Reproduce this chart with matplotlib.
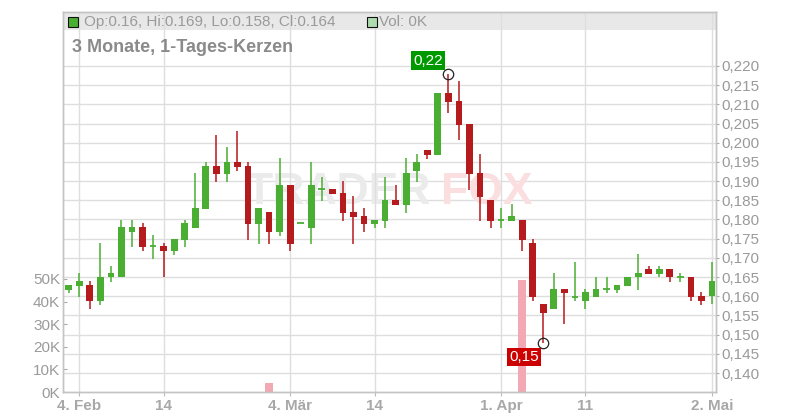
import matplotlib
matplotlib.use("Agg")
import matplotlib.pyplot as plt
from matplotlib.patches import Rectangle
import matplotlib.transforms as mtransforms

plt.rcParams['font.family'] = ['Liberation Sans', 'DejaVu Sans']

# ---- data (trading-day index: -1 = 1 Feb ... 60 = 2 May) ----
day_index = list(range(-1, 61))
opens = [0.1616, 0.1627, 0.1629, 0.1588, 0.1649, 0.1649, 0.1767, 0.1780, 0.1730, 0.1731,
         0.1719, 0.1747, 0.1779, 0.1827, 0.1939, 0.1919, 0.1950, 0.1939, 0.1789, 0.1820,
         0.1768, 0.1891, 0.1790, 0.1779, 0.1879, 0.1879, 0.1869, 0.1820, 0.1809, 0.1789,
         0.1797, 0.1851, 0.1839, 0.1927, 0.1981, 0.1969, 0.2130, 0.2109, 0.2050, 0.1921,
         0.1851, 0.1798, 0.1797, 0.1799, 0.1739, 0.1580, 0.1568, 0.1619, 0.1599, 0.1588,
         0.1599, 0.1618, 0.1617, 0.1627, 0.1649, 0.1671, 0.1659, 0.1671, 0.1650, 0.1650,
         0.1601, 0.1600]
highs = [0.1630, 0.1661, 0.1640, 0.1739, 0.1679, 0.1799, 0.1799, 0.1791, 0.1760, 0.1739,
         0.1749, 0.1799, 0.1921, 0.1950, 0.2020, 0.1989, 0.2031, 0.1950, 0.1830, 0.1820,
         0.1960, 0.1891, 0.1790, 0.1950, 0.1911, 0.1879, 0.1900, 0.1861, 0.1830, 0.1799,
         0.1911, 0.1890, 0.1960, 0.1971, 0.1981, 0.2130, 0.2179, 0.2161, 0.2050, 0.1971,
         0.1851, 0.1830, 0.1840, 0.1799, 0.1749, 0.1580, 0.1661, 0.1619, 0.1689, 0.1619,
         0.1650, 0.1650, 0.1629, 0.1650, 0.1710, 0.1679, 0.1679, 0.1671, 0.1661, 0.1650,
         0.1611, 0.1690]
lows = [0.1609, 0.1599, 0.1568, 0.1578, 0.1638, 0.1649, 0.1728, 0.1718, 0.1697, 0.1649,
        0.1708, 0.1729, 0.1779, 0.1827, 0.1898, 0.1898, 0.1926, 0.1747, 0.1737, 0.1737,
        0.1758, 0.1719, 0.1790, 0.1737, 0.1848, 0.1867, 0.1797, 0.1737, 0.1768, 0.1779,
        0.1779, 0.1839, 0.1818, 0.1898, 0.1958, 0.1969, 0.2078, 0.2008, 0.1878, 0.1797,
        0.1779, 0.1779, 0.1797, 0.1719, 0.1588, 0.1479, 0.1568, 0.1528, 0.1588, 0.1568,
        0.1599, 0.1608, 0.1608, 0.1627, 0.1617, 0.1659, 0.1649, 0.1638, 0.1638, 0.1588,
        0.1578, 0.1580]
closes = [0.1630, 0.1640, 0.1588, 0.1649, 0.1661, 0.1780, 0.1780, 0.1728, 0.1730, 0.1719,
          0.1749, 0.1791, 0.1830, 0.1939, 0.1919, 0.1950, 0.1937, 0.1789, 0.1830, 0.1768,
          0.1890, 0.1737, 0.1790, 0.1891, 0.1879, 0.1867, 0.1818, 0.1807, 0.1789, 0.1799,
          0.1851, 0.1839, 0.1921, 0.1950, 0.1969, 0.2130, 0.2107, 0.2047, 0.1919, 0.1859,
          0.1797, 0.1798, 0.1809, 0.1747, 0.1599, 0.1557, 0.1619, 0.1609, 0.1599, 0.1610,
          0.1619, 0.1618, 0.1629, 0.1650, 0.1661, 0.1659, 0.1671, 0.1649, 0.1650, 0.1599,
          0.1588, 0.1640]
volumes = [0, 0, 0, 0, 0, 0, 0, 0, 0, 0,
           0, 0, 0, 0, 0, 0, 0, 0, 0, 4000,
           0, 0, 0, 0, 0, 0, 0, 0, 0, 0,
           0, 0, 0, 0, 0, 0, 0, 0, 0, 0,
           0, 0, 0, 49500, 0, 0, 0, 0, 0, 0,
           0, 0, 0, 0, 0, 0, 0, 0, 0, 0,
           0, 0]
xtick_pos = [0, 8, 20, 28, 40, 48, 60]
xtick_labels = ["4. Feb", "14", "4. Mär", "14", "1. Apr", "11", "2. Mai"]
price_ticks = [0.140, 0.145, 0.150, 0.155, 0.160, 0.165, 0.170, 0.175, 0.180,
               0.185, 0.190, 0.195, 0.200, 0.205, 0.210, 0.215, 0.220]
vol_ticks = [0, 10000, 20000, 30000, 40000, 50000]
vol_tick_labels = ["0K", "10K", "20K", "30K", "40K", "50K"]
high_label, high_day, high_val = "0,22", 35, 0.2179
low_label, low_day, low_val = "0,15", 44, 0.1479

GREEN = '#4aae33'
RED = '#b51a1d'
VOLRED = '#f2a9b3'
VOLGREEN = '#aedcae'
GRID = '#dedede'
SPINE = '#c4c4c4'
TXT = '#9a9a9a'

W, H = 800, 420
fig = plt.figure(figsize=(8, 4.2), dpi=100)
L, R, T, B = 63, 716, 12, 392
ax_v = fig.add_axes([L / W, 1 - B / H, (R - L) / W, (B - T) / H])
ax_p = ax_v.twinx()

ax_v.set_xlim(-1.546, 60.38)
ax_v.set_ylim(0, 168000)
ax_p.set_ylim(0.13505, 0.23407)

# legend band at top
band_frac = 1 - 18 / (B - T)
ax_v.add_patch(Rectangle((0, band_frac), 1, 1 - band_frac, transform=ax_v.transAxes,
                         facecolor='#e8e8e8', edgecolor='none', zorder=0.1))

# gridlines
ax_v.set_axisbelow(True)
ax_v.set_xticks(xtick_pos)
ax_v.set_xticklabels(xtick_labels)
ax_v.grid(axis='x', color=GRID, lw=1.0)
blend = mtransforms.blended_transform_factory(ax_v.transAxes, ax_p.transData)
for p in price_ticks:
    ax_v.plot([0, 1], [p, p], transform=blend, color=GRID, lw=1.0, zorder=0.3)

# watermark
ax_v.text((245 - L) / (R - L), (B - 192) / (B - T), "TRADER", transform=ax_v.transAxes,
          fontsize=32, fontweight='bold', color='#ebebeb', ha='left', va='center', zorder=0.4)
ax_v.text((441 - L) / (R - L), (B - 192) / (B - T), "FOX", transform=ax_v.transAxes,
          fontsize=32, fontweight='bold', color='#fbdfe0', ha='left', va='center', zorder=0.4)

# volume bars
vcolors = [VOLGREEN if c >= o else VOLRED for o, c in zip(opens, closes)]
ax_v.bar(day_index, volumes, width=0.7, color=vcolors, zorder=1)

# candles
bw = 0.64
for x, o, h, l, c in zip(day_index, opens, highs, lows, closes):
    col = GREEN if c >= o else RED
    if h > l:
        ax_p.vlines(x, l, h, colors=col, lw=1.1, zorder=2)
    if abs(c - o) < 1e-9:
        ax_p.hlines(o, x - bw / 2, x + bw / 2, colors=col, lw=1.3, zorder=3)
    else:
        ax_p.bar(x, abs(c - o), bottom=min(o, c), width=bw, color=col, zorder=3, lw=0)

# high / low markers
for d, v, lab, bg, off in [(high_day, high_val, high_label, '#009a00', (-20.5, 13.5)),
                           (low_day, low_val, low_label, '#cc0000', (-19.5, -14))]:
    ax_p.plot([d], [v], marker='o', ms=7.5, mfc='none', mec='#222222', mew=0.9, zorder=5)
    ax_p.annotate(lab, xy=(d, v), xytext=off, textcoords='offset pixels',
                  ha='center', va='center', color='white', fontsize=11, zorder=6,
                  bbox=dict(boxstyle='square,pad=0.14', fc=bg, ec='none'))

# axes styling
for a in (ax_v, ax_p):
    for s in a.spines.values():
        s.set_color(SPINE)
        s.set_linewidth(1.0)

ax_v.set_yticks(vol_ticks)
ax_v.set_yticklabels(vol_tick_labels)
ax_v.tick_params(axis='y', direction='in', length=3, width=0.8, color='#aaaaaa',
                 pad=2, labelsize=11, labelcolor=TXT)
ax_v.tick_params(axis='x', length=3, width=0.8, color='#bbbbbb', pad=2,
                 labelsize=11, labelcolor='#a8a8a8')
for t in ax_v.get_xticklabels():
    t.set_fontweight('bold')

ax_p.set_yticks(price_ticks)
ax_p.set_yticklabels([("%.3f" % p).replace('.', ',') for p in price_ticks])
ax_p.tick_params(axis='y', length=2, width=0.8, color='#aaaaaa', pad=2,
                 labelsize=11, labelcolor=TXT)

# header texts
fig.add_artist(Rectangle((68 / W, 1 - 27 / H), 10 / W, 10 / H, transform=fig.transFigure,
                         facecolor=GREEN, edgecolor='#111111', lw=0.8))
fig.text(84 / W, 1 - 22 / H, "Op:0.16, Hi:0.169, Lo:0.158, Cl:0.164", fontsize=11,
         color=TXT, ha='left', va='center')
fig.add_artist(Rectangle((367 / W, 1 - 27 / H), 10 / W, 10 / H, transform=fig.transFigure,
                         facecolor=VOLGREEN, edgecolor='#111111', lw=0.8))
fig.text(379 / W, 1 - 22 / H, "Vol: 0K", fontsize=11, color=TXT, ha='left', va='center')
fig.text(72 / W, 1 - 47.5 / H, "3 Monate, 1-Tages-Kerzen", fontsize=13, fontweight='bold',
         color='#8a8a8a', ha='left', va='center')

fig.savefig("out.png", dpi=100)
